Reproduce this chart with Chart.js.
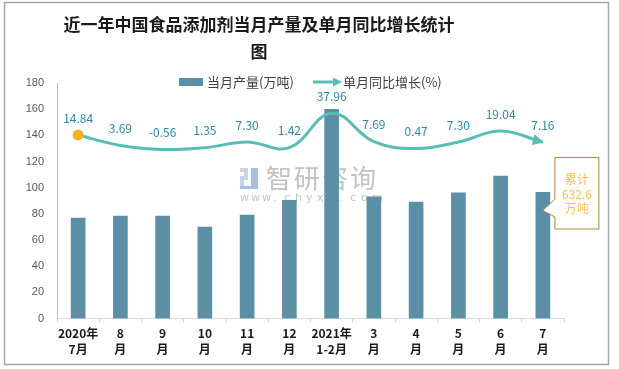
<!DOCTYPE html>
<html><head><meta charset="utf-8">
<script src="https://cdn.jsdelivr.net/npm/chart.js@4/dist/chart.umd.min.js"></script>
<style>html,body{margin:0;padding:0;background:#fff}#wrap{width:619px;height:369px}</style>
</head><body><div id="wrap"><canvas id="c" width="619" height="369"></canvas></div>
<script>
const categories = [['2020年','7月'],['8','月'],['9','月'],['10','月'],['11','月'],['12','月'],['2021年','1-2月'],['3','月'],['4','月'],['5','月'],['6','月'],['7','月']];
const output = [76.7, 78.2, 78.2, 69.8, 79.0, 90.4, 159.9, 93.0, 88.9, 96.0, 108.8, 96.5];
const growth = [14.84, 3.69, -0.56, 1.35, 7.30, 1.42, 37.96, 7.69, 0.47, 7.30, 19.04, 7.16];
const yTicks = [0, 20, 40, 60, 80, 100, 120, 140, 160, 180];
const titleLines = ['近一年中国食品添加剂当月产量及单月同比增长统计', '图'];
const seriesNames = ['当月产量(万吨)', '单月同比增长(%)'];
const cumulativeNote = ['累计', '632.6', '万吨'];

const BAR = '#5B8FA6', LINE = '#5ABDB5', LABEL = '#2E8AA0', DOT = '#F5B21E';
const CJK = '"Noto Sans CJK SC", "Noto Sans", sans-serif';

const decor = {
  id: 'decor',
  beforeDraw(chart) {
    const ctx = chart.ctx;
    ctx.save();
    ctx.fillStyle = '#fff';
    ctx.fillRect(0, 0, chart.width, chart.height);
    ctx.strokeStyle = '#a6a6a6';
    ctx.lineWidth = 1.5;
    ctx.strokeRect(4.5, 2.5, 604, 362);
    // title
    ctx.fillStyle = '#1a1a1a';
    ctx.font = 'bold 17px ' + CJK;
    ctx.textAlign = 'center';
    ctx.textBaseline = 'middle';
    ctx.fillText(titleLines[0], 259, 25);
    ctx.fillText(titleLines[1], 259, 52);
    // legend
    ctx.font = '13px ' + CJK;
    ctx.textAlign = 'left';
    ctx.fillStyle = BAR;
    ctx.fillRect(179, 78, 24, 8);
    ctx.fillStyle = '#404040';
    ctx.fillText(seriesNames[0], 207, 82);
    ctx.strokeStyle = LINE; ctx.lineWidth = 3;
    ctx.beginPath(); ctx.moveTo(313, 82); ctx.lineTo(334, 82); ctx.stroke();
    ctx.fillStyle = LINE;
    ctx.beginPath(); ctx.moveTo(342, 82); ctx.lineTo(333, 77.5); ctx.lineTo(333, 86.5); ctx.closePath(); ctx.fill();
    ctx.fillStyle = '#404040';
    ctx.fillText(seriesNames[1], 343, 82);
    ctx.restore();
  },
  beforeDatasetsDraw(chart) {
    // watermark
    const ctx = chart.ctx;
    ctx.save();
    ctx.fillStyle = '#c9d4e6';
    ctx.fillRect(240, 168, 8, 4);
    ctx.fillRect(244, 168, 4, 9);
    ctx.fillRect(240, 176, 8, 4);
    ctx.fillRect(240, 179, 4, 9);
    ctx.fillStyle = '#a9bfe0';
    ctx.fillRect(251, 168, 7, 20);
    ctx.fillRect(240, 186, 18, 3);
    ctx.fillStyle = '#c2c2c2';
    ctx.font = '26px ' + CJK;
    ctx.textAlign = 'left';
    ctx.textBaseline = 'middle';
    const wm = '智研咨询';
    for (let i = 0; i < wm.length; i++) ctx.fillText(wm[i], 266 + i * 28, 178);
    ctx.font = '11px "DejaVu Sans", sans-serif';
    ctx.fillStyle = '#c4c4c4';
    const url = 'www.chyxx.com';
    for (let i = 0; i < url.length; i++) ctx.fillText(url[i], 240 + i * 11, 198);
    ctx.restore();
  },
  afterDatasetsDraw(chart) {
    const ctx = chart.ctx;
    const lineMeta = chart.getDatasetMeta(1);
    const pts = lineMeta.data;
    ctx.save();
    // arrow head at last point
    const p = pts[pts.length - 1];
    const ang = Math.atan2(p.y - p.cp1y, p.x - p.cp1x);
    ctx.fillStyle = LINE;
    ctx.translate(p.x, p.y);
    ctx.rotate(ang);
    ctx.beginPath(); ctx.moveTo(1, 0); ctx.lineTo(-10, -5.5); ctx.lineTo(-10, 5.5); ctx.closePath(); ctx.fill();
    ctx.setTransform(1, 0, 0, 1, 0, 0);
    // data labels
    ctx.font = '12px ' + CJK;
    ctx.fillStyle = LABEL;
    ctx.textAlign = 'center';
    ctx.textBaseline = 'middle';
    pts.forEach((pt, i) => ctx.fillText(growth[i].toFixed(2), pt.x, pt.y - 17));
    // callout
    const barMeta = chart.getDatasetMeta(0);
    const b = barMeta.data[barMeta.data.length - 1];
    const bx = b.x;
    const L = bx + 12, R = bx + 56, T = 157.5, B = 229;
    ctx.fillStyle = '#fff';
    ctx.strokeStyle = '#B8862E';
    ctx.lineWidth = 1;
    ctx.beginPath();
    ctx.moveTo(L, T); ctx.lineTo(R, T); ctx.lineTo(R, B); ctx.lineTo(L, B);
    ctx.lineTo(L, 217); ctx.lineTo(bx, 210.5); ctx.lineTo(L, 199); ctx.closePath();
    ctx.fill(); ctx.stroke();
    ctx.fillStyle = '#F5C04A';
    ctx.font = '12px ' + CJK;
    const cx = (L + R) / 2;
    ctx.fillText(cumulativeNote[0], cx, 179);
    ctx.fillText(cumulativeNote[1], cx, 194);
    ctx.fillText(cumulativeNote[2], cx, 208);
    ctx.restore();
  }
};

new Chart(document.getElementById('c'), {
  data: {
    labels: categories,
    datasets: [
      { type: 'bar', label: seriesNames[0], data: output, backgroundColor: BAR, barThickness: 14, yAxisID: 'y', order: 1 },
      { type: 'line', label: seriesNames[1], data: growth, borderColor: LINE, borderWidth: 3, tension: 0.4,
        pointRadius: growth.map((v, i) => i === 0 ? 5.5 : 0), pointBackgroundColor: DOT, pointBorderColor: DOT,
        pointBorderWidth: 0, yAxisID: 'y2', order: 0 }
    ]
  },
  options: {
    responsive: false,
    devicePixelRatio: 1,
    animation: false,
    layout: { padding: { left: 4, right: 55, top: 83, bottom: 4 } },
    plugins: { legend: { display: false }, title: { display: false }, tooltip: { enabled: false } },
    scales: {
      x: {
        grid: { display: true, drawOnChartArea: false, drawTicks: true, tickLength: 4, color: '#d9d9d9', offset: true },
        border: { display: true, color: '#d9d9d9' },
        ticks: { color: '#1a1a1a', font: { family: CJK, size: 12, weight: 'bold', lineHeight: 1.35 }, padding: 3, maxRotation: 0, autoSkip: false },
        afterFit(s) { s.height = 46.5; }
      },
      y: {
        min: 0, max: 180,
        afterBuildTicks(s) { s.ticks = yTicks.map(v => ({ value: v })); },
        grid: { display: false, drawTicks: false },
        border: { display: true, color: '#bfbfbf' },
        ticks: { color: '#595959', font: { family: '"Liberation Sans", sans-serif', size: 11 }, padding: 13 },
        afterFit(s) { s.width = 53; }
      },
      y2: { display: false, min: -180, max: 70 }
    }
  },
  plugins: [decor]
});
</script></body></html>
